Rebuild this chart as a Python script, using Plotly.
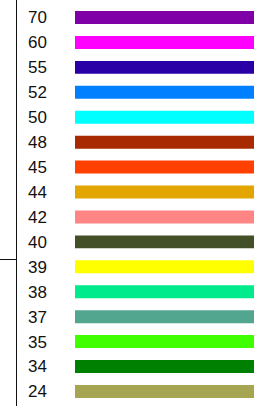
import plotly.graph_objects as go

labels = ["70", "60", "55", "52", "50", "48", "45", "44", "42", "40", "39", "38", "37", "35", "34", "24"]
colors = ["#7E00A6", "#FF00FF", "#2A00A6", "#0080FF", "#00FFFF", "#A82A00", "#FF4000", "#E3A600",
          "#FF8484", "#434F27", "#FFFF00", "#00EB8C", "#52A690", "#40FF00", "#008000", "#A6A652"]
bar_extent = [1.2] * len(labels)

W, H = 254, 406

fig = go.Figure()
fig.add_trace(go.Bar(
    y=labels, x=bar_extent, orientation="h",
    marker=dict(color=colors, line=dict(width=0)),
    showlegend=False, hoverinfo="skip",
))

row0 = 17.5
step = 24.93
top = -row0 / step
bottom = (H - row0) / step

fig.update_layout(
    width=W, height=H,
    margin=dict(l=0, r=0, t=0, b=0),
    paper_bgcolor="white", plot_bgcolor="white",
    bargap=0.48,
    font=dict(family="Liberation Sans, Arial, sans-serif", size=17, color="#111111"),
    xaxis=dict(domain=[75 / W, 1], range=[0, 1], visible=False, fixedrange=True),
    yaxis=dict(type="category", categoryorder="array", categoryarray=labels,
               range=[bottom, top], showgrid=False, showline=False, zeroline=False,
               ticks="", ticklabelstandoff=27, tickfont=dict(size=17)),
    shapes=[
        dict(type="line", xref="paper", yref="paper", x0=16.5 / W, x1=16.5 / W, y0=0, y1=1,
             line=dict(color="#111111", width=1)),
        dict(type="line", xref="paper", yref="paper", x0=0, x1=16.5 / W,
             y0=1 - 259.5 / H, y1=1 - 259.5 / H, line=dict(color="#111111", width=1)),
    ],
)

fig.write_html("out.html", config={"displayModeBar": False},
               post_script="document.body.style.margin='0';document.body.style.overflow='hidden';")
